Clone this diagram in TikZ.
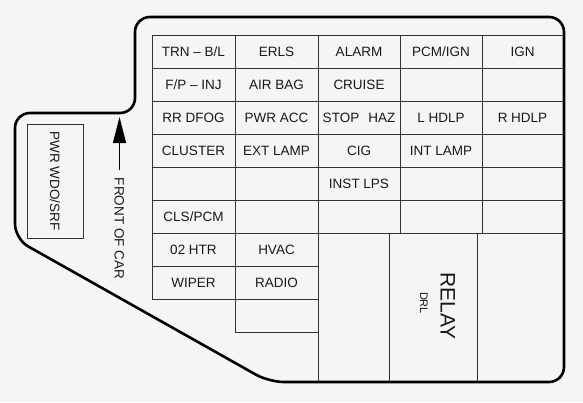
\documentclass[tikz,border=0pt]{standalone}
\usepackage{fontspec}
\setmainfont{Liberation Sans}
\usetikzlibrary{arrows.meta}

\begin{document}
\begin{tikzpicture}[x=1pt, y=-1pt,
    fuse/.style={font=\fontsize{13.5}{15}\selectfont, text=black!90, inner sep=0pt, text height=9.7pt, text depth=0pt},
    fuseline/.style={black!80, line width=1pt}]
  \fill[black!4] (0,0) rectangle (583,402);
  \useasboundingbox (0,0) rectangle (583,402);
  % fuse grid
  \foreach \y in {35,68,101,134,167,200,233}
    \draw[fuseline] (152,\y) -- (563,\y);
  \draw[fuseline] (152,266) -- (318,266);
  \draw[fuseline] (152,299) -- (318,299);
  \draw[fuseline] (235,332) -- (318,332);
  \draw[fuseline] (152,35) -- (152,299);
  \draw[fuseline] (235,35) -- (235,332);
  \draw[fuseline] (318,35) -- (318,382);
  \draw[fuseline] (400,35) -- (400,233);
  \draw[fuseline] (482,35) -- (482,233);
  \draw[fuseline] (389,233) -- (389,382);
  \draw[fuseline] (477,233) -- (477,382);
  \draw[fuseline] (563,35) -- (563,366);
  % outline of the fuse block
  \draw[line width=2.6pt, rounded corners=15pt] (269,382) -- (564,382) -- (564,17) -- (135,17) -- (135,113) -- (15,113) -- (15,239) -- cycle;
  % fuse names
  \node[fuse] (trnbl) at (193.5,52) {TRN -- B/L};
  \node[fuse] (erls) at (276.5,52) {ERLS};
  \node[fuse] (alarm) at (359,52) {ALARM};
  \node[fuse] (pcmign) at (441,52) {PCM/IGN};
  \node[fuse] (ign) at (522.5,52) {IGN};
  \node[fuse] (fpinj) at (193.5,85) {F/P -- INJ};
  \node[fuse] (airbag) at (276.5,85) {AIR BAG};
  \node[fuse] (cruise) at (359,85) {CRUISE};
  \node[fuse] (rrdfog) at (193.5,118) {RR DFOG};
  \node[fuse] (pwracc) at (276.5,118) {PWR ACC};
  \node[fuse] (stophaz) at (359,118) {STOP\hspace{9pt}HAZ};
  \node[fuse] (lhdlp) at (441,118) {L HDLP};
  \node[fuse] (rhdlp) at (522.5,118) {R HDLP};
  \node[fuse] (cluster) at (193.5,151) {CLUSTER};
  \node[fuse] (extlamp) at (276.5,151) {EXT LAMP};
  \node[fuse] (cig) at (359,151) {CIG};
  \node[fuse] (intlamp) at (441,151) {INT LAMP};
  \node[fuse] (instlps) at (359,184) {INST LPS};
  \node[fuse] (clspcm) at (193.5,217) {CLS/PCM};
  \node[fuse] (htr) at (193.5,250) {02 HTR};
  \node[fuse] (hvac) at (276.5,250) {HVAC};
  \node[fuse] (wiper) at (193.5,283) {WIPER};
  \node[fuse] (radio) at (276.5,283) {RADIO};
  % relay
  \node[fuse, font=\fontsize{21}{24}\selectfont, text height=15pt, rotate=-90] (relay) at (448,306) {RELAY};
  \node[fuse, font=\fontsize{11}{13}\selectfont, text height=7.9pt, rotate=-90] (drl) at (424,303) {DRL};
  % left side
  \draw[fuseline] (27,124) rectangle (83,238);
  \node[fuse, rotate=-90] (pwrwdo) at (55,181) {PWR WDO/SRF};
  \node[fuse, rotate=-90] (front) at (119.5,228.5) {FRONT OF CAR};
  \coordinate (arrowtail) at (119.5,170);
  \coordinate (arrowtip) at (119.5,117);
  \draw[black, line width=1.3pt, -{Triangle[length=26pt, width=13pt]}] (arrowtail) -- (arrowtip);
\end{tikzpicture}
\end{document}
